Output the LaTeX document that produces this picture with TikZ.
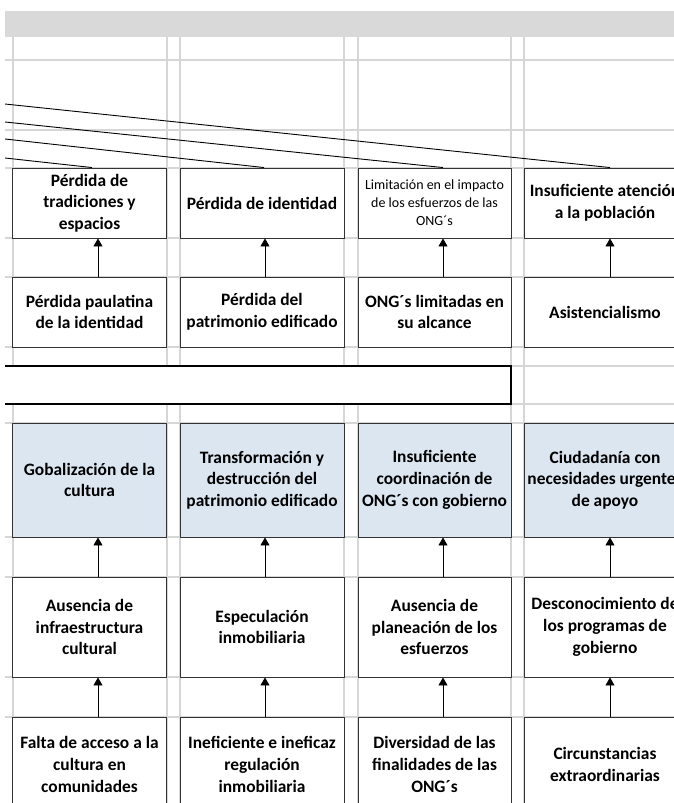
\documentclass[tikz,border=0pt]{standalone}
\usepackage{fontspec}
\setmainfont{Carlito}
\usetikzlibrary{arrows.meta}
\definecolor{celeste}{HTML}{DCE6F1}

\begin{document}
\begin{tikzpicture}[x=1pt, y=-1pt,
  gl/.style={black!16, line width=1.4pt},
  bx/.style={rectangle, draw=black!80, fill=white, line width=0.9pt, align=center, inner sep=0pt, font=\bfseries\fontsize{17.4}{21.7}\selectfont},
  cz/.style={bx, fill=celeste},
  sm/.style={font=\fontsize{14}{18}\selectfont},
  wa/.style={minimum width=154pt}, wb/.style={minimum width=164pt},
  wc/.style={minimum width=153pt}, wd/.style={minimum width=162pt},
  ln/.style={black, line width=0.9pt},
  ar/.style={black, line width=0.8pt, -{Triangle[length=8pt, width=9pt]}}]
\useasboundingbox (0,0) rectangle (674,803);
\clip (5,0) rectangle (674,803);
% hoja de calculo
\fill[black!15] (5,11) rectangle (674,37);
\foreach \y in {60,130,168,238,277,347,366,404,423,537,577,677,717}
  \draw[gl] (5,\y) -- (674,\y);
\foreach \x in {13,167,180,344,358,511,524}
  \draw[gl] (\x,37) -- (\x,803);
% efectos
\node[bx, wa, minimum height=70pt] (e1a) at (89.5,203) {Pérdida de\\ tradiciones y\\ espacios};
\node[bx, wb, minimum height=70pt] (e1b) at (262,203) {Pérdida de identidad};
\node[bx, wc, sm, minimum height=70pt] (e1c) at (434.5,203) {Limitación en el impacto\\ de los esfuerzos de las\\ ONG´s};
\node[bx, wd, minimum height=70pt] (e1d) at (605,203) {Insuficiente atención\\ a la población};
\node[bx, wa, minimum height=70pt] (e2a) at (89.5,312) {Pérdida paulatina\\ de la identidad};
\node[bx, wb, minimum height=70pt] (e2b) at (262,312) {Pérdida del\\ patrimonio edificado};
\node[bx, wc, minimum height=70pt] (e2c) at (434.5,312) {ONG´s limitadas en\\ su alcance};
\node[bx, wd, minimum height=70pt] (e2d) at (605,312) {Asistencialismo};
% problema central
\node[bx, draw=black, line width=2pt, minimum width=531pt, minimum height=38pt] (pb) at (245.5,385) {};
% causas
\node[cz, wa, minimum height=114pt] (c1a) at (89.5,480) {Gobalización de la\\ cultura};
\node[cz, wb, minimum height=114pt] (c1b) at (262,480) {Transformación y\\ destrucción del\\ patrimonio edificado};
\node[cz, wc, minimum height=114pt] (c1c) at (434.5,480) {Insuficiente\\ coordinación de\\ ONG´s con gobierno};
\node[cz, wd, minimum height=114pt] (c1d) at (605,480) {Ciudadanía con\\ necesidades urgentes\\ de apoyo};
\node[bx, wa, minimum height=100pt] (c2a) at (89.5,627) {Ausencia de\\ infraestructura\\ cultural};
\node[bx, wb, minimum height=100pt] (c2b) at (262,627) {Especulación\\ inmobiliaria};
\node[bx, wc, minimum height=100pt] (c2c) at (434.5,627) {Ausencia de\\ planeación de los\\ esfuerzos};
\node[bx, wd, minimum height=100pt] (c2d) at (605,627) {Desconocimiento de\\ los programas de\\ gobierno};
\node[bx, wa, minimum height=95pt] (c3a) at (89.5,764.5) {Falta de acceso a la\\ cultura en\\ comunidades};
\node[bx, wb, minimum height=95pt] (c3b) at (262,764.5) {Ineficiente e ineficaz\\ regulación\\ inmobiliaria};
\node[bx, wc, minimum height=95pt] (c3c) at (434.5,764.5) {Diversidad de las\\ finalidades de las\\ ONG´s};
\node[bx, wd, minimum height=95pt] (c3d) at (605,764.5) {Circunstancias\\ extraordinarias};
% lineas hacia el efecto principal
\coordinate (la) at (5,158);
\coordinate (lb) at (5,139);
\coordinate (lc) at (5,122);
\coordinate (ld) at (5,104);
\draw[ln] (la) -- ([xshift=2.5pt]e1a.north);
\draw[ln] (lb) -- ([xshift=2pt]e1b.north);
\draw[ln] (lc) -- ([xshift=8.5pt]e1c.north);
\draw[ln] (ld) -- ([xshift=5pt]e1d.north);
% flechas
\foreach \k/\dx in {a/8.5,b/3,c/8.5,d/5} {
  \draw[ar] ([xshift=\dx pt]e2\k.north) -- ([xshift=\dx pt]e1\k.south);
  \draw[ar] ([xshift=\dx pt]c2\k.north) -- ([xshift=\dx pt]c1\k.south);
  \draw[ar] ([xshift=\dx pt]c3\k.north) -- ([xshift=\dx pt]c2\k.south);
}
\end{tikzpicture}
\end{document}
